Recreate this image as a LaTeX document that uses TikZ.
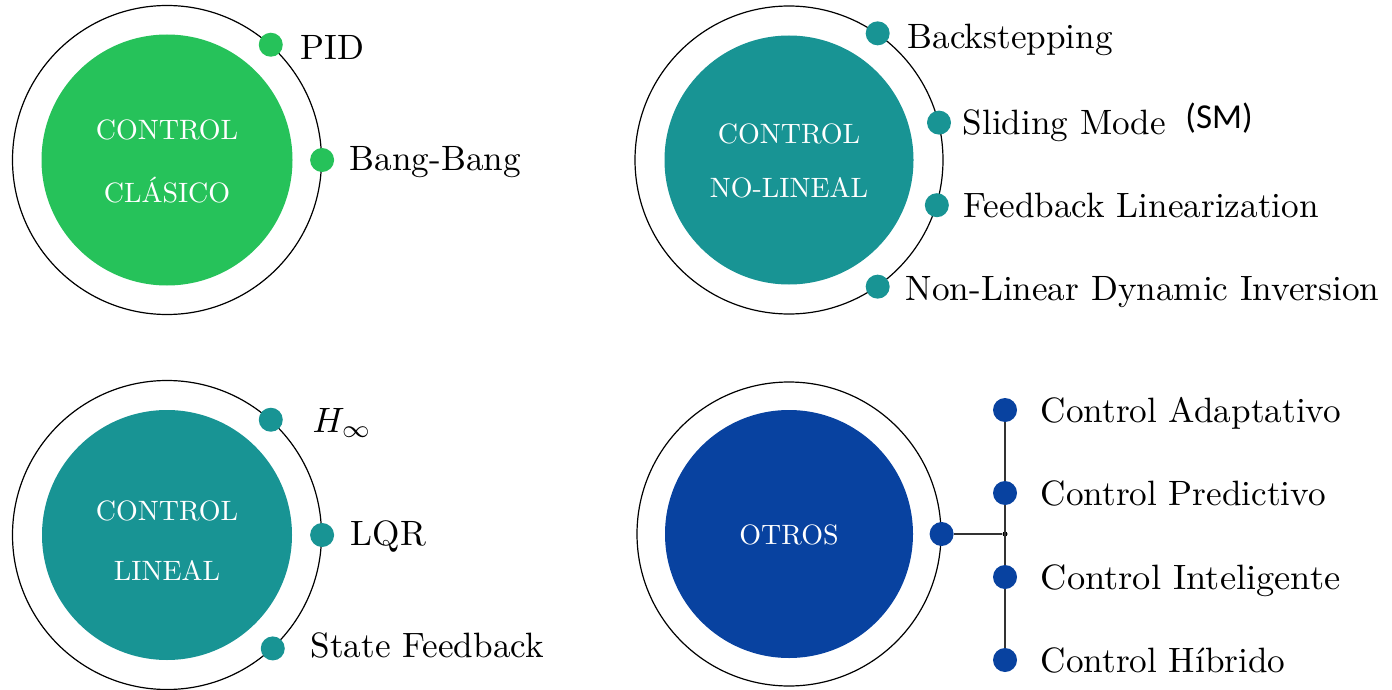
\documentclass[tikz,border=0pt]{standalone}
\usepackage{fontspec}
\newfontfamily\abbrfont{Carlito}
\definecolor{clgreen}{RGB}{38,194,90}
\definecolor{clteal}{RGB}{24,148,148}
\definecolor{clblue}{RGB}{8,66,160}
\begin{document}
\begin{tikzpicture}[x=0.5pt,y=-0.5pt,
  ring/.style={circle,draw,line width=0.6pt,inner sep=0pt,minimum size=#1},
  core/.style={circle,fill=#1,draw=none,inner sep=0pt},
  dot/.style={circle,fill=#1,draw=none,inner sep=0pt,minimum size=12pt},
  item/.style={anchor=base west,inner sep=0pt,scale=1.76},
  title/.style={anchor=base,inner sep=0pt,text=white,scale=1.4},
  link/.style={line width=0.6pt,draw=black!80}]
\useasboundingbox (0,0) rectangle (1392,690);
\fill[white] (0,0) rectangle (1392,690);

% ---- Control clasico
\node[ring=154.5pt] (tl) at (167,160) {};
\node[core=clgreen,minimum size=125.5pt] (tlc) at (167,160) {};
\node[title] (tlt1) at (167,140) {CONTROL};
\node[title] (tlt2) at (167,202) {CLÁSICO};
\node[dot=clgreen] (pid) at (tl.48) {};
\node[dot=clgreen] (bb) at (tl.0) {};
\node[item] (pidl) at (300,60) {PID};
\node[item] (bbl) at (349,170) {Bang-Bang};

% ---- Control no-lineal
\node[ring=154pt] (tr) at (789,160) {};
\node[core=clteal,minimum size=124.5pt] (trc) at (789,160) {};
\node[title] (trt1) at (789,143) {CONTROL};
\node[title] (trt2) at (789,198) {NO-LINEAL};
\node[dot=clteal] (bs) at (tr.55) {};
\node[dot=clteal] (sm) at (tr.14) {};
\node[dot=clteal] (fl) at (tr.-17) {};
\node[dot=clteal] (nl) at (tr.-55) {};
\node[item] (bsl) at (907,49) {Backstepping};
\node[item] (sml) at (962,134) {Sliding Mode};
\node[anchor=base west,inner sep=0pt] (smab) at (1185,129) {\abbrfont\fontsize{17.5}{20}\selectfont (SM)};
\node[item] (fll) at (963,217) {Feedback Linearization};
\node[item] (nll) at (905,300) {Non-Linear Dynamic Inversion};

% ---- Control lineal
\node[ring=154.5pt] (bl) at (167,535) {};
\node[core=clteal,minimum size=125pt] (blc) at (167,535) {};
\node[title] (blt1) at (167,520) {CONTROL};
\node[title] (blt2) at (167,580) {LINEAL};
\node[dot=clteal] (hi) at (bl.48) {};
\node[dot=clteal] (lq) at (bl.0) {};
\node[dot=clteal] (sf) at (bl.-47) {};
\node[item] (hil) at (312,432) {$H_\infty$};
\node[item] (lql) at (350,545) {LQR};
\node[item] (sfl) at (310,657) {State Feedback};

% ---- Otros
\node[ring=152pt] (br) at (789,534) {};
\node[core=clblue,minimum size=124pt] (brc) at (789,534) {};
\node[title] (brt) at (789,544) {OTROS};
\node[dot=clblue] (ot) at (br.0) {};
\node[circle,fill=black,inner sep=0pt,minimum size=2.5pt] (jn) at (1005,534) {};
\node[dot=clblue] (ca) at (1005,410) {};
\node[dot=clblue] (cp) at (1005,493) {};
\node[dot=clblue] (ci) at (1005,577) {};
\node[dot=clblue] (ch) at (1005,660) {};
\draw[link] (ot) -- (jn);
\draw[link] (ca) -- (cp);
\draw[link] (cp) -- (ci);
\draw[link] (ci) -- (ch);
\node[item] (cal) at (1040,422) {Control Adaptativo};
\node[item] (cpl) at (1040,505) {Control Predictivo};
\node[item,xscale=1.035] (cil) at (1040,589) {Control Inteligente};
\node[item] (chl) at (1040,672) {Control Híbrido};
\end{tikzpicture}
\end{document}
